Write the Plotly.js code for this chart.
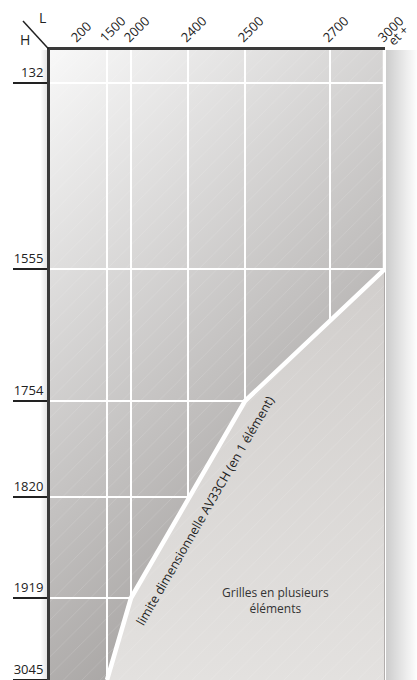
<!DOCTYPE html>
<html>
<head>
<meta charset="utf-8">
<script src="https://cdn.plot.ly/plotly-3.0.1.min.js"></script>
<style>
  html, body { margin: 0; padding: 0; background: #ffffff; }
  #chart { width: 417px; height: 680px; }
</style>
</head>
<body>
<div id="chart"></div>
<script>
// ---- Data ----
const L_values = [200, 1500, 2000, 2400, 2500, 2700, 3000];
const L_labels = ['200', '1500', '2000', '2400', '2500', '2700', '3000'];
const L_last_suffix = 'et +';            // "3000 et +"
const H_values = [132, 1555, 1754, 1820, 1919, 3045];
const H_labels = ['132', '1555', '1754', '1820', '1919', '3045'];
// grid lines drawn at these category values
const L_grid = [1500, 2000, 2400, 2500, 2700];
const H_grid = [132, 1555, 1754, 1820, 1919];
// boundary "limite dimensionnelle AV33CH (en 1 élément)" : L reachable for each H
const limit_L = [1500, 2000, 2500, 3000, 3000];
const limit_H = [3045, 1919, 1754, 1555, 0]; // 0 = top edge of the table

// ---- Non-uniform axis layout (display positions of each category) ----
const L_pos = [28, 57, 81, 138, 195, 280, 335];
const H_pos = [33, 219, 351, 447, 548, 630];
const X_MAX = 335, Y_MAX = 630;

const xOf = L => L_pos[L_values.indexOf(L)];
const yOf = H => (H === 0 ? 0 : H_pos[H_values.indexOf(H)]);

const limX = limit_L.map(xOf);
const limY = limit_H.map(yOf);

// light region (several elements): below/right of the limit line
const lightIdx = limit_H.map((h, i) => i).filter(i => limit_H[i] !== 0);
const lightX = lightIdx.map(i => limX[i]).concat([xOf(3000), limX[0]]);
const lightY = lightIdx.map(i => limY[i]).concat([yOf(3045), limY[0]]);

const FONT = 'Open Sans, Lato, sans-serif';

function svgURI(svg) {
  return 'data:image/svg+xml;charset=utf-8,' + encodeURIComponent(svg);
}
const bgSVG = "<svg xmlns='http://www.w3.org/2000/svg' width='335' height='630' viewBox='0 0 335 630' preserveAspectRatio='none'>" +
  "<defs><linearGradient id='g' gradientUnits='userSpaceOnUse' x1='0' y1='0' x2='467' y2='510'>" +
  "<stop offset='0' stop-color='#f8f8f8'/><stop offset='1' stop-color='#8e8a88'/></linearGradient></defs>" +
  "<rect width='335' height='630' fill='url(#g)'/></svg>";
const shadowSVG = "<svg xmlns='http://www.w3.org/2000/svg' width='32' height='630' viewBox='0 0 32 630' preserveAspectRatio='none'>" +
  "<defs><linearGradient id='s' x1='0' y1='0' x2='1' y2='0'>" +
  "<stop offset='0' stop-color='#000' stop-opacity='0.2'/><stop offset='1' stop-color='#000' stop-opacity='0'/></linearGradient></defs>" +
  "<rect width='32' height='630' fill='url(#s)'/></svg>";
const lshadowSVG = "<svg xmlns='http://www.w3.org/2000/svg' width='8' height='630' viewBox='0 0 8 630' preserveAspectRatio='none'>" +
  "<defs><linearGradient id='s' x1='0' y1='0' x2='1' y2='0'>" +
  "<stop offset='0' stop-color='#000' stop-opacity='0'/><stop offset='1' stop-color='#000' stop-opacity='0.12'/></linearGradient></defs>" +
  "<rect width='8' height='630' fill='url(#s)'/></svg>";

const traces = [
  { // light region
    type: 'scatter', mode: 'lines', x: lightX, y: lightY,
    fill: 'toself', line: { width: 0 },
    fillgradient: { type: 'vertical', colorscale: [[0, '#e3e1df'], [1, '#d1cecc']] },
    hoverinfo: 'skip', showlegend: false
  },
  { // faint diagonal hatching over the whole table
    type: 'scatter', mode: 'lines',
    x: [0, X_MAX, X_MAX, 0, 0], y: [0, 0, Y_MAX, Y_MAX, 0],
    fill: 'toself', line: { width: 0 }, fillcolor: 'rgba(0,0,0,0)',
    fillpattern: { shape: '/', bgcolor: 'rgba(0,0,0,0)', fgcolor: '#ffffff', fgopacity: 0.2, size: 13, solidity: 0.05 },
    hoverinfo: 'skip', showlegend: false
  },
  { // right frame below the limit
    type: 'scatter', mode: 'lines',
    x: [xOf(3000), xOf(3000)], y: [yOf(1555), yOf(3045)],
    line: { color: '#a09d9b', width: 1.5 }, hoverinfo: 'skip', showlegend: false
  },
  { // limit line
    type: 'scatter', mode: 'lines', x: limX, y: limY,
    line: { color: '#ffffff', width: 4.5 }, hoverinfo: 'skip', showlegend: false,
    cliponaxis: false
  }
];

const segMidX = (xOf(2000) + xOf(2500)) / 2;
const segMidY = (yOf(1919) + yOf(1754)) / 2;

const layout = {
  width: 417, height: 680,
  margin: { l: 50, r: 32, t: 50, b: 0, pad: 0 },
  paper_bgcolor: '#ffffff',
  plot_bgcolor: 'rgba(0,0,0,0)',
  font: { family: FONT, size: 12, color: '#222' },
  showlegend: false,
  hovermode: false,
  xaxis: {
    side: 'top', range: [0, X_MAX], fixedrange: true,
    tickmode: 'array', tickvals: L_pos, ticktext: L_labels,
    tickangle: -45, ticks: '', showgrid: false, zeroline: false,
    ticklabelshift: -6, ticklabelstandoff: -3,
    tickfont: { family: FONT, size: 13, color: '#222' },
    showline: true, linecolor: '#3a3a3a', linewidth: 3,
    minor: { tickmode: 'array', tickvals: L_grid.map(xOf), showgrid: true, gridcolor: '#ffffff', gridwidth: 2, ticks: '' }
  },
  yaxis: {
    range: [Y_MAX, 0], fixedrange: true,
    tickmode: 'array', tickvals: H_pos, ticktext: H_labels,
    ticks: 'outside', ticklen: 34, tickwidth: 1.5, tickcolor: '#222',
    ticklabelstandoff: -33, ticklabelshift: 11,
    tickfont: { family: FONT, size: 13, color: '#222' },
    showgrid: false, zeroline: false,
    showline: true, linecolor: '#3a3a3a', linewidth: 3,
    minor: { tickmode: 'array', tickvals: H_grid.map(yOf), showgrid: true, gridcolor: '#ffffff', gridwidth: 2, ticks: '' }
  },
  images: [
    { source: svgURI(bgSVG), xref: 'paper', yref: 'paper', x: 0, y: 1, sizex: 1, sizey: 1,
      sizing: 'stretch', xanchor: 'left', yanchor: 'top', layer: 'below' },
    { source: svgURI(shadowSVG), xref: 'paper', yref: 'paper', x: 1.003, y: 1, sizex: 32 / 335, sizey: 1,
      sizing: 'stretch', xanchor: 'left', yanchor: 'top', layer: 'below' },
    { source: svgURI(lshadowSVG), xref: 'paper', yref: 'paper', x: -0.005, y: 1, sizex: 8 / 335, sizey: 1,
      sizing: 'stretch', xanchor: 'right', yanchor: 'top', layer: 'below' }
  ],
  shapes: [
    { type: 'line', xref: 'paper', yref: 'paper', x0: -0.0806, y0: 1.046, x1: -0.004, y1: 1.0016,
      line: { color: '#222', width: 1.5 } }
  ],
  annotations: [
    { text: 'L', xref: 'paper', yref: 'paper', x: -0.021, y: 1.0508, xanchor: 'center', yanchor: 'middle',
      showarrow: false, font: { family: FONT, size: 14, color: '#222' } },
    { text: 'H', xref: 'paper', yref: 'paper', x: -0.0746, y: 1.0159, xanchor: 'center', yanchor: 'middle',
      showarrow: false, font: { family: FONT, size: 14, color: '#222' } },
    { text: L_last_suffix, x: xOf(3000), xref: 'x', yref: 'paper', y: 1.0238,
      xshift: 13, xanchor: 'center', yanchor: 'middle', textangle: -45, showarrow: false,
      font: { family: FONT, size: 12.5, color: '#222' } },
    { text: 'limite dimensionnelle AV33CH (en 1 élément)', x: segMidX, y: segMidY,
      xanchor: 'center', yanchor: 'middle',
      xshift: 16.5, yshift: -11.5, textangle: -60, showarrow: false,
      font: { family: FONT, size: 12.5, color: '#222' } },
    { text: 'Grilles en plusieurs<br>éléments', x: 225, y: 550, xanchor: 'center', yanchor: 'middle', showarrow: false,
      font: { family: FONT, size: 12, color: '#333' } }
  ]
};

Plotly.newPlot('chart', traces, layout, { displayModeBar: false, staticPlot: true });
</script>
</body>
</html>
